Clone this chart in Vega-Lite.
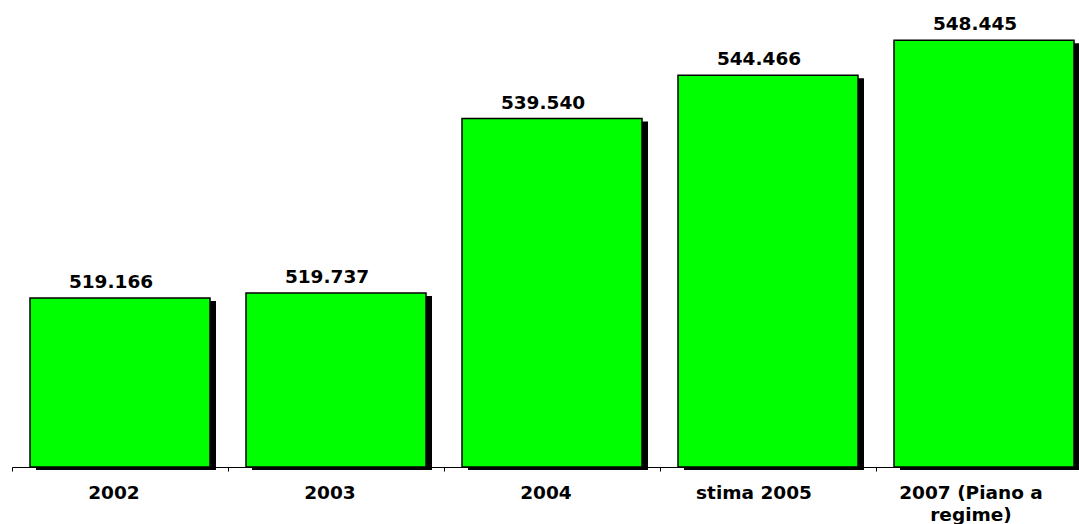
{
  "$schema": "https://vega.github.io/schema/vega-lite/v6.json",
  "autosize": "none",
  "width": 1080,
  "height": 467,
  "padding": {"left": 12, "top": 0, "right": 0, "bottom": 57},
  "background": "white",
  "config": {
    "view": {"stroke": null},
    "font": "DejaVu Sans"
  },
  "data": {
    "values": [
      {"periodo": "2002", "valore": 519.166},
      {"periodo": "2003", "valore": 519.737},
      {"periodo": "2004", "valore": 539.540},
      {"periodo": "stima 2005", "valore": 544.466},
      {"periodo": "2007 (Piano a regime)", "valore": 548.445}
    ]
  },
  "encoding": {
    "y": {
      "field": "valore",
      "type": "quantitative",
      "scale": {"domain": [500, 553], "zero": false, "nice": false},
      "axis": null
    }
  },
  "layer": [
    {
      "mark": {"type": "bar", "width": 180, "color": "black", "xOffset": 6, "yOffset": 3, "y2Offset": 3},
      "encoding": {
        "y2": {"datum": 500},
        "x": {
          "field": "periodo",
          "type": "nominal",
          "sort": null,
          "scale": {"paddingInner": 0, "paddingOuter": 0},
          "axis": {
            "orient": "bottom",
            "title": null,
            "labels": false,
            "bandPosition": 0,
            "domainColor": "black",
            "tickColor": "black",
            "tickSize": 4,
            "domainWidth": 1,
            "tickWidth": 1
          }
        }
      }
    },
    {
      "mark": {"type": "bar", "width": 180, "color": "#00ff00", "stroke": "black", "strokeWidth": 1.5},
      "encoding": {
        "y2": {"datum": 500},
        "x": {
          "field": "periodo",
          "type": "nominal",
          "sort": null,
          "scale": {"paddingInner": 0, "paddingOuter": 0},
          "axis": {
            "orient": "bottom",
            "title": null,
            "domain": false,
            "ticks": false,
            "labelPadding": 16,
            "labelFont": "DejaVu Sans",
            "labelFontWeight": "bold",
            "labelFontSize": 18.5,
            "labelColor": "black",
            "labelAngle": 0,
            "labelLineHeight": 22,
            "labelExpr": "datum.value == '2007 (Piano a regime)' ? ['2007 (Piano a', 'regime)'] : datum.value",
            "labelOffset": {
              "condition": [
                {"test": "datum.value == 'stima 2005'", "value": -14},
                {"test": "datum.value == '2007 (Piano a regime)'", "value": -13}
              ],
              "value": -6
            }
          }
        }
      }
    },
    {
      "mark": {"type": "text", "baseline": "alphabetic", "dx": -9, "dy": -10, "font": "DejaVu Sans", "fontWeight": "bold", "fontSize": 18.5, "color": "black"},
      "encoding": {
        "x": {"field": "periodo", "type": "nominal", "sort": null, "axis": null},
        "text": {"field": "valore", "type": "quantitative", "format": ".3f"}
      }
    }
  ],
  "resolve": {"axis": {"x": "independent"}}
}
